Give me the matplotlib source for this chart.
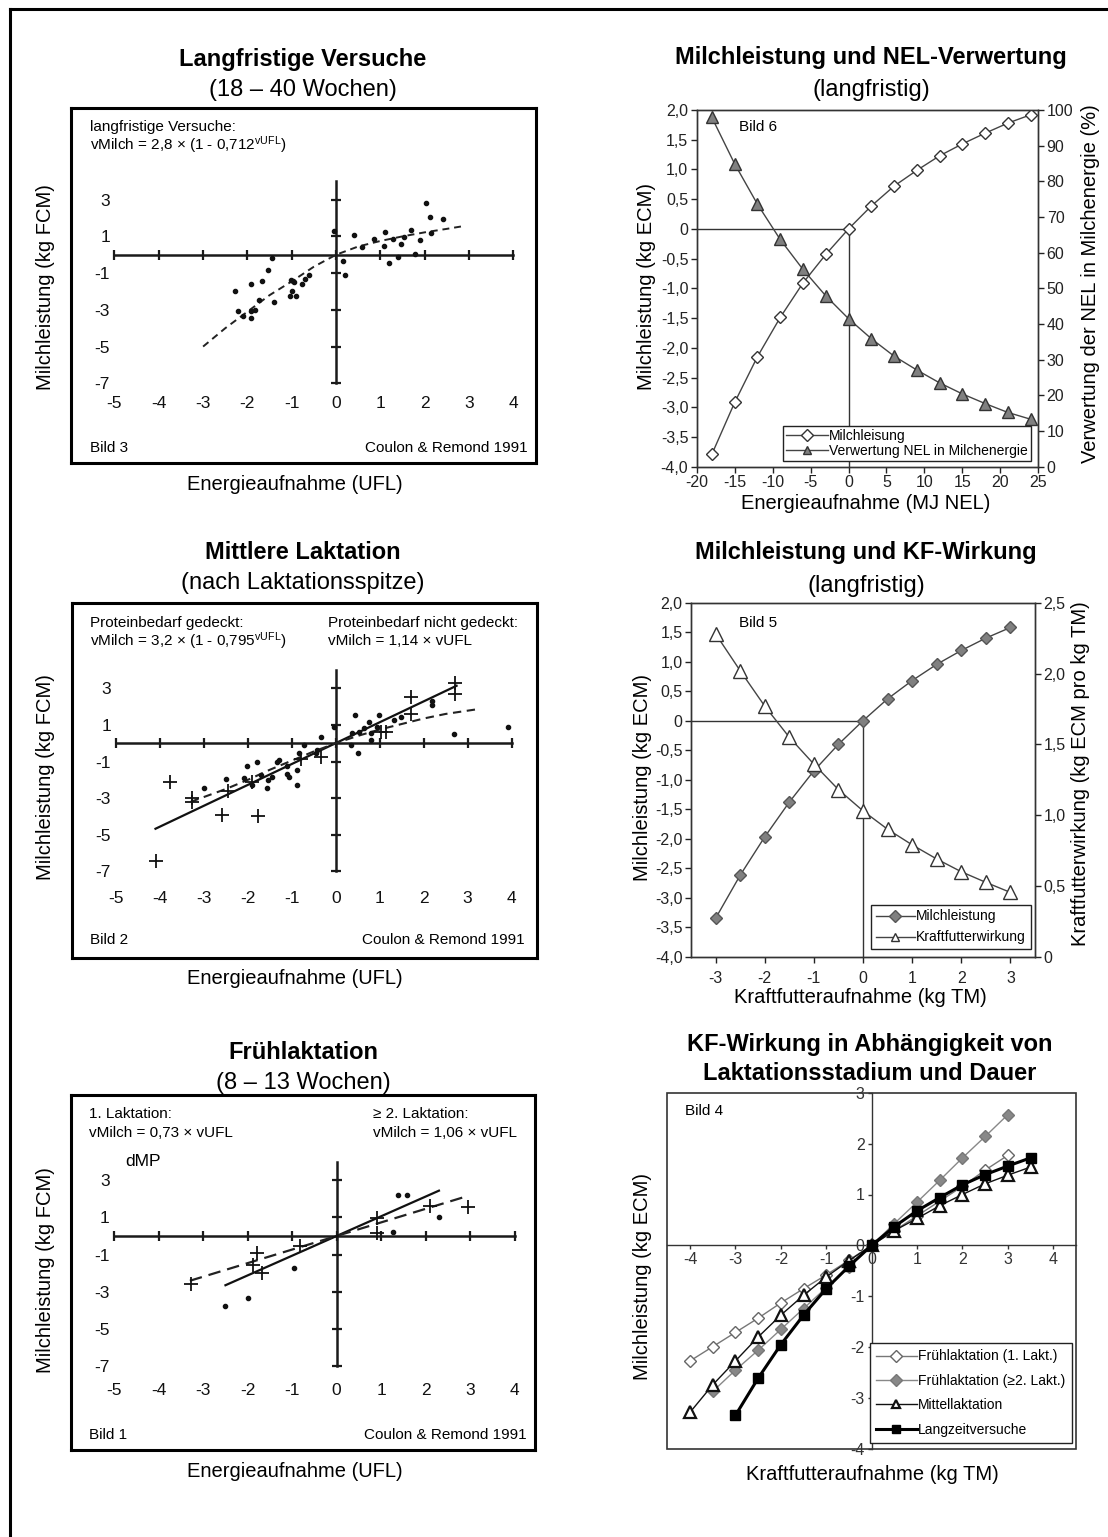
import matplotlib
matplotlib.use('Agg')
import matplotlib.pyplot as plt
from matplotlib.lines import Line2D
from matplotlib.patches import Rectangle

plt.rcParams['font.family'] = ['Liberation Sans', 'DejaVu Sans']
plt.rcParams['mathtext.fontset'] = 'custom'
plt.rcParams['mathtext.rm'] = 'Liberation Sans'
plt.rcParams['mathtext.it'] = 'Liberation Sans:italic'
plt.rcParams['axes.unicode_minus'] = False
plt.rcParams['lines.scale_dashes'] = False

# ---------------- data ----------------
# Bild 3 (langfristige Versuche)
b3_dots_x = [2.03, 2.11, 2.41, -0.04, 0.40, 1.11, 1.69, 2.14, 1.90, 1.08, 1.47, 0.59, 1.28, 1.77, 1.39,
             1.20, 0.15, 0.19, 0.86, 1.54, -1.53, -2.29, -1.92, -1.68, -2.21, -2.09, -1.92, -1.82, -1.74, -1.41,
             -1.92, -1.02, -0.94, -0.98, -1.00, -1.03, -0.91, -0.78, -0.71, -0.60, -1.44]
b3_dots_y = [2.84, 2.05, 1.95, 1.27, 1.05, 1.24, 1.33, 1.18, 0.78, 0.47, 0.56, 0.42, 0.87, 0.04, -0.13,
             -0.44, -0.35, -1.13, 0.87, 0.96, -0.82, -2.00, -1.60, -1.44, -3.04, -3.31, -3.44, -3.00, -2.45, -2.60,
             -3.04, -1.35, -1.49, -1.42, -1.95, -2.22, -2.22, -1.60, -1.31, -1.13, -0.18]
b3_fit_x = [-3, -2.5, -2, -1.5, -1, -0.5, 0, 0.5, 1, 1.5, 2, 2.5, 2.85]
b3_fit_y = [-5.0, -4.0, -3.1, -2.2, -1.45, -0.65, 0, 0.45, 0.75, 1.0, 1.22, 1.41, 1.55]

# Bild 2 (Mittlere Laktation)
b2_dots_x = [-0.04, 0.45, 0.76, 0.99, 0.95, 0.64, 0.53, 0.38, 0.80, 0.81, 1.33, 1.48, 2.18, 2.18, 2.69,
             3.92, -0.34, 0.34, 0.51, -0.72, -0.83, -0.42, -0.45, -1.29, -1.34, -0.87, -1.10, -1.06, -1.10, -0.87,
             -1.44, -1.55, -1.57, -1.71, -1.80, -2.01, -2.50, -2.99, -1.90, -2.08]
b2_dots_y = [0.91, 1.55, 1.18, 1.55, 0.91, 0.82, 0.64, 0.55, 0.55, 0.15, 1.27, 1.45, 2.09, 2.33, 0.49,
             0.91, 0.36, -0.09, -0.55, -0.09, -0.51, -0.36, -0.55, -0.91, -1.05, -1.45, -1.27, -1.82, -1.67, -2.27,
             -1.82, -2.00, -2.45, -1.73, -1.05, -1.27, -1.95, -2.45, -2.27, -1.91]
b2_plus_x = [2.71, 2.71, 1.71, 1.71, 1.02, 1.14, -0.34, -0.80, -1.90, -2.46, -3.28, -3.28, -3.77, -2.59, -1.77, -4.08]
b2_plus_y = [3.31, 2.67, 2.51, 1.58, 0.64, 0.64, -0.73, -0.87, -2.13, -2.60, -3.00, -3.22, -2.13, -3.91, -4.00, -6.42]
b2_solid_x = [-4.1, 2.75]
b2_solid_y = [-4.67, 3.14]
b2_dash_x = [-3.3, -2.5, -2, -1.5, -1, -0.5, 0, 0.5, 1, 1.5, 2, 2.5, 3.2]
b2_dash_y = [-3.2, -2.5, -2.0, -1.45, -0.95, -0.45, 0, 0.4, 0.75, 1.05, 1.35, 1.6, 1.85]

# Bild 1 (Frühlaktation)
b1_dots_x = [1.37, 1.59, 2.31, 1.26, -0.97, -2.00, -2.51]
b1_dots_y = [2.21, 2.21, 1.04, 0.20, -1.74, -3.32, -3.75]
b1_plus_x = [0.90, 0.90, 2.10, 2.96, -1.80, -1.87, -1.68, -0.82, -3.27]
b1_plus_y = [0.95, 0.18, 1.62, 1.58, -0.93, -1.56, -1.97, -0.52, -2.59]
b1_solid_x = [-2.5, 2.3]
b1_solid_y = [-2.65, 2.44]
b1_dash_x = [-3.3, 2.9]
b1_dash_y = [-2.41, 2.12]

ufl_xticks = [-5, -4, -3, -2, -1, 0, 1, 2, 3, 4]
ufl_yticks = [3, 1, -1, -3, -5, -7]

# Bild 6
b6_x = [-18, -15, -12, -9, -6, -3, 0, 3, 6, 9, 12, 15, 18, 21, 24]
b6_milch = [-3.79, -2.92, -2.15, -1.49, -0.91, -0.43, 0.0, 0.385, 0.72, 0.985, 1.23, 1.43, 1.61, 1.78, 1.92]
b6_verw = [97.9, 84.9, 73.6, 63.7, 55.3, 47.9, 41.5, 35.9, 31.0, 27.1, 23.5, 20.4, 17.7, 15.2, 13.3]
b6_xticks = [-20, -15, -10, -5, 0, 5, 10, 15, 20, 25]
ecm_yticks = [2.0, 1.5, 1.0, 0.5, 0.0, -0.5, -1.0, -1.5, -2.0, -2.5, -3.0, -3.5, -4.0]
ecm_ylabels = ['2,0', '1,5', '1,0', '0,5', '0', '-0,5', '-1,0', '-1,5', '-2,0', '-2,5', '-3,0', '-3,5', '-4,0']
b6_rticks = [0, 10, 20, 30, 40, 50, 60, 70, 80, 90, 100]

# Bild 5
b5_x = [-3, -2.5, -2, -1.5, -1, -0.5, 0, 0.5, 1, 1.5, 2, 2.5, 3]
b5_milch = [-3.35, -2.62, -1.97, -1.38, -0.85, -0.40, 0.0, 0.37, 0.68, 0.955, 1.19, 1.40, 1.58]
b5_kf = [2.28, 2.02, 1.77, 1.55, 1.36, 1.18, 1.03, 0.90, 0.79, 0.69, 0.60, 0.525, 0.454]
b5_xticks = [-3, -2, -1, 0, 1, 2, 3]
b5_rticks = [0, 0.5, 1.0, 1.5, 2.0, 2.5]
b5_rlabels = ['0', '0,5', '1,0', '1,5', '2,0', '2,5']

# Bild 4
b4_x1 = [-4, -3.5, -3, -2.5, -2, -1.5, -1, -0.5, 0, 0.5, 1, 1.5, 2, 2.5, 3]
b4_y1 = [-2.27, -1.99, -1.71, -1.43, -1.13, -0.85, -0.58, -0.29, 0, 0.29, 0.58, 0.87, 1.16, 1.48, 1.77]
b4_x2 = [-3.5, -3, -2.5, -2, -1.5, -1, -0.5, 0, 0.5, 1, 1.5, 2, 2.5, 3]
b4_y2 = [-2.87, -2.45, -2.06, -1.65, -1.24, -0.83, -0.42, 0, 0.43, 0.85, 1.28, 1.72, 2.14, 2.57]
b4_x3 = [-4, -3.5, -3, -2.5, -2, -1.5, -1, -0.5, 0, 0.5, 1, 1.5, 2, 2.5, 3, 3.5]
b4_y3 = [-3.28, -2.74, -2.27, -1.80, -1.37, -0.98, -0.62, -0.30, 0, 0.29, 0.53, 0.78, 1.00, 1.21, 1.38, 1.54]
b4_x4 = [-3, -2.5, -2, -1.5, -1, -0.5, 0, 0.5, 1, 1.5, 2, 2.5, 3, 3.5]
b4_y4 = [-3.34, -2.61, -1.95, -1.37, -0.85, -0.41, 0, 0.37, 0.68, 0.94, 1.19, 1.39, 1.56, 1.72]
b4_xticks = [-4, -3, -2, -1, 0, 1, 2, 3, 4]
b4_yticks = [-4, -3, -2, -1, 0, 1, 2, 3]
b4_names = ['Frühlaktation (1. Lakt.)', 'Frühlaktation (≥2. Lakt.)', 'Mittellaktation', 'Langzeitversuche']

# ---------------- figure ----------------
W, H = 1108, 1537
DPI = 100
fig = plt.figure(figsize=(W / DPI, H / DPI), dpi=DPI)
fig.patch.set_facecolor('white')


def ax_px(x0, y0, x1, y1):
    return fig.add_axes([x0 / W, 1 - y1 / H, (x1 - x0) / W, (y1 - y0) / H])


def ftext(x, y, s, **kw):
    return fig.text(x / W, 1 - y / H, s, **kw)


# outer border (top and left)
fig.add_artist(Line2D([10 / W, 10 / W], [0, 1 - 8.5 / H], transform=fig.transFigure, color='black', lw=2.2))
fig.add_artist(Line2D([10 / W, 1], [1 - 8.5 / H, 1 - 8.5 / H], transform=fig.transFigure, color='black', lw=2.2))

AXC = '#1a1a1a'


def cross_panel(box, xlim, ylim):
    ax = ax_px(*box)
    ax.set_xlim(xlim)
    ax.set_ylim(ylim)
    for s in ax.spines.values():
        s.set_linewidth(2.2)
        s.set_color('black')
    ax.set_xticks(ufl_xticks)
    ax.set_xticklabels([str(v) for v in ufl_xticks])
    ax.set_yticks(ufl_yticks)
    ax.set_yticklabels([str(v) for v in ufl_yticks])
    ax.tick_params(axis='x', length=0, pad=-48, labelsize=12.5, colors='#111')
    ax.tick_params(axis='y', length=0, pad=-28, labelsize=12.5, colors='#111')
    ax.plot([min(ufl_xticks), max(ufl_xticks)], [0, 0], color=AXC, lw=1.8, zorder=2)
    ax.plot([0, 0], [min(ufl_yticks), 4], color=AXC, lw=1.8, zorder=2)
    ax.plot(ufl_xticks, [0] * len(ufl_xticks), ls='none', marker='|', ms=7, mew=1.6, color=AXC, zorder=2)
    ax.plot([0] * len(ufl_yticks), ufl_yticks, ls='none', marker='_', ms=7, mew=1.6, color=AXC, zorder=2)
    return ax


small = 11
# ---- Bild 3 ----
ax3 = cross_panel((71, 108, 536, 463), (-5.98, 4.51), (-11.34, 7.99))
ax3.plot(b3_fit_x, b3_fit_y, color='#222', lw=1.4, dashes=(5, 3.5), zorder=3)
ax3.plot(b3_dots_x, b3_dots_y, ls='none', marker='o', ms=3, color='#111', zorder=4)
ax3.text(0.041, 0.947, 'langfristige Versuche:', transform=ax3.transAxes, fontsize=small, va='center', ha='left')
ax3.text(0.041, 0.896, r'vMilch = 2,8 × (1 - 0,712$^{\mathrm{vUFL}}$)', transform=ax3.transAxes, fontsize=small,
         va='center', ha='left')
ax3.text(0.041, 0.043, 'Bild 3', transform=ax3.transAxes, fontsize=small, va='center', ha='left')
ax3.text(0.983, 0.043, 'Coulon & Remond 1991', transform=ax3.transAxes, fontsize=small, va='center', ha='right')

# ---- Bild 2 ----
ax2 = cross_panel((72, 603, 537, 958), (-6.0, 4.58), (-11.73, 7.66))
ax2.plot(b2_solid_x, b2_solid_y, color='#111', lw=1.6, zorder=3)
ax2.plot(b2_dash_x, b2_dash_y, color='#222', lw=1.5, dashes=(6, 4), zorder=3)
ax2.plot(b2_dots_x, b2_dots_y, ls='none', marker='o', ms=3, color='#111', zorder=4)
ax2.plot(b2_plus_x, b2_plus_y, ls='none', marker='+', ms=10, mew=1.3, color='#111', zorder=4)
ax2.text(0.039, 0.945, 'Proteinbedarf gedeckt:', transform=ax2.transAxes, fontsize=small, va='center', ha='left')
ax2.text(0.039, 0.892, r'vMilch = 3,2 × (1 - 0,795$^{\mathrm{vUFL}}$)', transform=ax2.transAxes, fontsize=small,
         va='center', ha='left')
ax2.text(0.551, 0.945, 'Proteinbedarf nicht gedeckt:', transform=ax2.transAxes, fontsize=small, va='center', ha='left')
ax2.text(0.551, 0.892, 'vMilch = 1,14 × vUFL', transform=ax2.transAxes, fontsize=small, va='center', ha='left')
ax2.text(0.039, 0.05, 'Bild 2', transform=ax2.transAxes, fontsize=small, va='center', ha='left')
ax2.text(0.974, 0.05, 'Coulon & Remond 1991', transform=ax2.transAxes, fontsize=small, va='center', ha='right')

# ---- Bild 1 ----
ax1 = cross_panel((70.7, 1095, 535, 1450), (-5.98, 4.46), (-11.52, 7.59))
ax1.plot(b1_solid_x, b1_solid_y, color='#111', lw=1.6, zorder=3)
ax1.plot(b1_dash_x, b1_dash_y, color='#222', lw=1.6, dashes=(9, 5), zorder=3)
ax1.plot(b1_dots_x, b1_dots_y, ls='none', marker='o', ms=3, color='#111', zorder=4)
ax1.plot(b1_plus_x, b1_plus_y, ls='none', marker='+', ms=10, mew=1.3, color='#111', zorder=4)
ax1.text(0.04, 0.946, '1. Laktation:', transform=ax1.transAxes, fontsize=small, va='center', ha='left')
ax1.text(0.04, 0.892, 'vMilch = 0,73 × vUFL', transform=ax1.transAxes, fontsize=small, va='center', ha='left')
ax1.text(0.652, 0.946, '≥ 2. Laktation:', transform=ax1.transAxes, fontsize=small, va='center', ha='left')
ax1.text(0.652, 0.892, 'vMilch = 1,06 × vUFL', transform=ax1.transAxes, fontsize=small, va='center', ha='left')
ax1.text(0.117, 0.814, 'dMP', transform=ax1.transAxes, fontsize=12.5, va='center', ha='left')
ax1.text(0.04, 0.042, 'Bild 1', transform=ax1.transAxes, fontsize=small, va='center', ha='left')
ax1.text(0.982, 0.042, 'Coulon & Remond 1991', transform=ax1.transAxes, fontsize=small, va='center', ha='right')

# left titles and labels
TFS = 17
LFS = 14.5
for (tb, sb, t, s) in [(66, 96, 'Langfristige Versuche', '(18 – 40 Wochen)'),
                       (559, 589, 'Mittlere Laktation', '(nach Laktationsspitze)'),
                       (1059, 1089, 'Frühlaktation', '(8 – 13 Wochen)')]:
    ftext(303, tb, t, fontsize=TFS, fontweight='bold', ha='center', va='baseline')
    ftext(303, sb, s, fontsize=TFS, ha='center', va='baseline')
for yc, xb in [(287.5, 489.5), (777.5, 984.5), (1270.5, 1477)]:
    ftext(45.5, yc, 'Milchleistung (kg FCM)', fontsize=LFS, rotation=90, ha='center', va='center')
    ftext(295, xb, 'Energieaufnahme (UFL)', fontsize=LFS, ha='center', va='baseline')

GR = '#444444'
TKS = 11.5

# ---- Bild 6 ----
ax6 = ax_px(696.7, 110, 1038.3, 466.7)
ax6.set_xlim(-20, 25)
ax6.set_ylim(-4, 2)
ax6.set_xticks(b6_xticks)
ax6.set_yticks(ecm_yticks)
ax6.set_yticklabels(ecm_ylabels)
for s in ax6.spines.values():
    s.set_color('#333')
    s.set_linewidth(1.0)
ax6.tick_params(direction='out', length=4, width=1, labelsize=TKS, pad=2, colors='#222')
ax6.plot([-20, 0], [0, 0], color='#333', lw=1.0, zorder=1)
ax6.plot([0, 0], [0, -4], color='#333', lw=1.0, zorder=1)
l61, = ax6.plot(b6_x, b6_milch, color=GR, lw=1.0, marker='D', ms=6.5, mfc='white', mec='#333', mew=1.0,
                label='Milchleisung', zorder=3)
ax6r = ax6.twinx()
ax6r.set_ylim(0, 100)
ax6r.set_yticks(b6_rticks)
ax6r.tick_params(direction='out', length=4, width=1, labelsize=TKS, pad=2, colors='#222')
for s in ax6r.spines.values():
    s.set_color('#333')
    s.set_linewidth(1.0)
l62, = ax6r.plot(b6_x, b6_verw, color=GR, lw=1.0, marker='^', ms=9, mfc='#808080', mec='#333', mew=1.0,
                 label='Verwertung NEL in Milchenergie', zorder=3)
ax6.text(0.125, 0.953, 'Bild 6', transform=ax6.transAxes, fontsize=small, va='center', ha='left')
lg6 = ax6r.legend(handles=[l61, l62], loc='lower right', bbox_to_anchor=(0.978, 0.016), fontsize=10,
                  frameon=True, fancybox=False, edgecolor='#222', framealpha=1, handlelength=3.0,
                  handletextpad=0.1, labelspacing=0.12, borderpad=0.2, borderaxespad=0)
lg6.get_frame().set_linewidth(1.0)
for h in lg6.legend_handles:
    h.set_markersize(6)
ftext(871, 64.3, 'Milchleistung und NEL-Verwertung', fontsize=TFS, fontweight='bold', ha='center', va='baseline')
ftext(871, 96, '(langfristig)', fontsize=TFS, ha='center', va='baseline')
ftext(646.5, 286.7, 'Milchleistung (kg ECM)', fontsize=LFS, rotation=90, ha='center', va='center')
ftext(1091, 283.3, 'Verwertung der NEL in Milchenergie (%)', fontsize=LFS, rotation=90, ha='center', va='center')
ftext(866, 509.3, 'Energieaufnahme (MJ NEL)', fontsize=LFS, ha='center', va='baseline')

# ---- Bild 5 ----
ax5 = ax_px(691, 602.7, 1035, 956.7)
ax5.set_xlim(-3.5, 3.5)
ax5.set_ylim(-4, 2)
ax5.set_xticks(b5_xticks)
ax5.set_yticks(ecm_yticks)
ax5.set_yticklabels(ecm_ylabels)
for s in ax5.spines.values():
    s.set_color('#333')
    s.set_linewidth(1.0)
ax5.tick_params(direction='out', length=4, width=1, labelsize=TKS, pad=2, colors='#222')
ax5.tick_params(axis='x', pad=6)
ax5.plot([-3.5, 0], [0, 0], color='#333', lw=1.0, zorder=1)
ax5.plot([0, 0], [0, -4], color='#333', lw=1.0, zorder=1)
l51, = ax5.plot(b5_x, b5_milch, color=GR, lw=1.0, marker='D', ms=6.5, mfc='#808080', mec='#555', mew=1.0,
                label='Milchleistung', zorder=3)
ax5r = ax5.twinx()
ax5r.set_ylim(0, 2.5)
ax5r.set_yticks(b5_rticks)
ax5r.set_yticklabels(b5_rlabels)
ax5r.tick_params(direction='out', length=4, width=1, labelsize=TKS, pad=2, colors='#222')
for s in ax5r.spines.values():
    s.set_color('#333')
    s.set_linewidth(1.0)
l52, = ax5r.plot(b5_x, b5_kf, color=GR, lw=1.0, marker='^', ms=9.5, mfc='white', mec='#333', mew=1.0,
                 label='Kraftfutterwirkung', zorder=3)
ax5.text(0.14, 0.944, 'Bild 5', transform=ax5.transAxes, fontsize=small, va='center', ha='left')
lg5 = ax5r.legend(handles=[l51, l52], loc='lower right', bbox_to_anchor=(0.988, 0.021), fontsize=10,
                  frameon=True, fancybox=False, edgecolor='#222', framealpha=1, handlelength=2.8,
                  handletextpad=0.1, labelspacing=0.5, borderpad=0.35, borderaxespad=0)
lg5.get_frame().set_linewidth(1.0)
for h in lg5.legend_handles:
    h.set_markersize(6)
ftext(866, 559.3, 'Milchleistung und KF-Wirkung', fontsize=TFS, fontweight='bold', ha='center', va='baseline')
ftext(866, 591.5, '(langfristig)', fontsize=TFS, ha='center', va='baseline')
ftext(642.5, 777.5, 'Milchleistung (kg ECM)', fontsize=LFS, rotation=90, ha='center', va='center')
ftext(1081, 774, 'Kraftfutterwirkung (kg ECM pro kg TM)', fontsize=LFS, rotation=90, ha='center', va='center')
ftext(860, 1003, 'Kraftfutteraufnahme (kg TM)', fontsize=LFS, ha='center', va='baseline')

# ---- Bild 4 ----
ax4 = ax_px(667.3, 1092.7, 1076, 1449)
ax4.set_xlim(-4.5, 4.5)
ax4.set_ylim(-4, 3)
ax4.set_xticks(b4_xticks)
ax4.set_yticks(b4_yticks)
ax4.spines['left'].set_position(('data', 0))
ax4.spines['bottom'].set_position(('data', 0))
ax4.spines['top'].set_visible(False)
ax4.spines['right'].set_visible(False)
for k in ('left', 'bottom'):
    ax4.spines[k].set_color('#333')
    ax4.spines[k].set_linewidth(1.0)
ax4.add_patch(Rectangle((0, 0), 1, 1, transform=ax4.transAxes, fill=False, edgecolor='#333', lw=1.2,
                        clip_on=False, zorder=5))
ax4.tick_params(direction='out', length=3, width=1, labelsize=TKS, pad=2, colors='#333')
p1, = ax4.plot(b4_x1, b4_y1, color='#777', lw=1.0, marker='D', ms=6.5, mfc='white', mec='#666', mew=1.0,
               label=b4_names[0], zorder=3)
p2, = ax4.plot(b4_x2, b4_y2, color='#888', lw=1.0, marker='D', ms=6.5, mfc='#888888', mec='#777', mew=1.0,
               label=b4_names[1], zorder=3)
p3, = ax4.plot(b4_x3, b4_y3, color='#111', lw=1.0, marker='^', ms=8.5, mfc='white', mec='#111', mew=1.6,
               label=b4_names[2], zorder=4)
p4, = ax4.plot(b4_x4, b4_y4, color='#000', lw=2.2, marker='s', ms=7, mfc='black', mec='black',
               label=b4_names[3], zorder=4)
ax4.text(0.043, 0.949, 'Bild 4', transform=ax4.transAxes, fontsize=small, va='center', ha='left')
lg4 = ax4.legend(handles=[p1, p2, p3, p4], loc='lower right', bbox_to_anchor=(0.989, 0.017), fontsize=10,
                 frameon=True, fancybox=False, edgecolor='#222', framealpha=1, handlelength=2.9,
                 handletextpad=0.1, labelspacing=0.75, borderpad=0.45, borderaxespad=0)
lg4.get_frame().set_linewidth(1.0)
lg4.set_zorder(6)
for h in lg4.legend_handles:
    h.set_markersize(6)
ftext(870, 1051, 'KF-Wirkung in Abhängigkeit von', fontsize=TFS, fontweight='bold', ha='center', va='baseline')
ftext(870, 1080.5, 'Laktationsstadium und Dauer', fontsize=TFS, fontweight='bold', ha='center', va='baseline')
ftext(642.5, 1276.5, 'Milchleistung (kg ECM)', fontsize=LFS, rotation=90, ha='center', va='center')
ftext(872.5, 1480, 'Kraftfutteraufnahme (kg TM)', fontsize=LFS, ha='center', va='baseline')

fig.savefig('out.png', dpi=DPI)
